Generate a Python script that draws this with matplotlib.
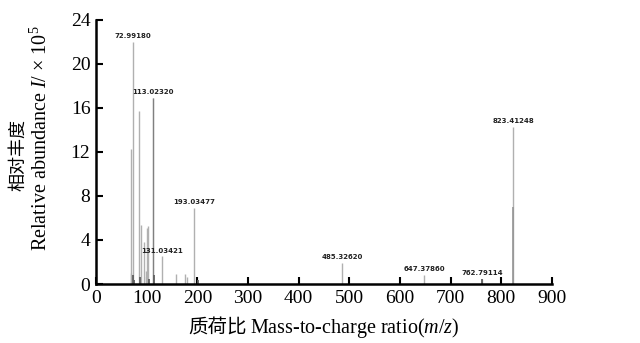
import matplotlib
matplotlib.use("Agg")
import matplotlib.pyplot as plt

# Light gray peaks (m/z, relative abundance x 1e5)
mz = [68.5, 70.0, 72.99, 85.0, 89.0, 94.0, 98.0, 101.0, 103.0, 113.02, 131.03, 157.0, 175.0, 180.0, 193.03, 485.33, 647.38, 762.79, 823.41]
abund = [1.0, 12.3, 22.0, 15.7, 5.4, 3.8, 1.2, 5.1, 5.3, 16.9, 2.5, 0.9, 0.9, 0.6, 6.9, 1.9, 0.8, 0.5, 14.3]

# Darker overlapping peaks
mz_dark = [73.0, 75.0, 86.0, 104.0, 113.5, 201.0, 761.0]
abund_dark = [0.8, 0.4, 0.6, 0.5, 0.8, 0.4, 0.5]
mz_mid = [823.6]
abund_mid = [7.0]

# Annotated peaks
label_mz = [72.99180, 113.02320, 131.03421, 193.03477, 485.32620, 647.37860, 762.79114, 823.41248]
label_y = [22.0, 16.9, 2.5, 6.9, 1.9, 0.8, 0.5, 14.3]

xticks = [0, 100, 200, 300, 400, 500, 600, 700, 800, 900]
yticks = [0, 4, 8, 12, 16, 20, 24]

plt.rcParams['font.family'] = ['Liberation Serif', 'Noto Sans CJK SC', 'DejaVu Sans']
plt.rcParams['mathtext.fontset'] = 'custom'
plt.rcParams['mathtext.rm'] = 'Liberation Serif'
plt.rcParams['mathtext.it'] = 'Liberation Serif:italic'

fig = plt.figure(figsize=(6.4, 3.43), dpi=100)
ax = fig.add_axes([0.15, 0.172, 0.7125, 0.77])

ax.vlines(mz, 0, abund, colors='#b0b0b0', linewidth=1.0)
ax.vlines([113.02], 0, [16.9], colors='#808080', linewidth=0.9)
ax.vlines(mz_mid, 0, abund_mid, colors='#959595', linewidth=1.2)
ax.vlines(mz_dark, 0, abund_dark, colors='#606060', linewidth=1.3)

for x, y in zip(label_mz, label_y):
    ax.text(x, y + 0.25, f"{x:.5f}", ha='center', va='bottom', fontsize=5,
            fontweight='bold', family='DejaVu Sans', color='#222222')

ax.set_xlim(0, 900)
ax.set_ylim(0, 24)
ax.set_xticks(xticks)
ax.set_yticks(yticks)
ax.tick_params(direction='in', length=5, width=1.5, labelsize=14, pad=4, colors='black')
for s in ['top', 'right']:
    ax.spines[s].set_visible(False)
for s in ['left', 'bottom']:
    ax.spines[s].set_linewidth(1.8)

fig.text(0.0285, 0.548, '相对丰度', rotation=90, ha='center', va='center', fontsize=13,
         family=['Noto Sans CJK SC'])
fig.text(0.064, 0.598, 'Relative abundance $I$/ × 10$^{5}$', rotation=90, ha='center',
         va='center', fontsize=14.5)
fig.text(0.385, 0.045, '质荷比', ha='right', va='center', fontsize=14,
         family=['Noto Sans CJK SC'])
fig.text(0.39, 0.045, 'Mass-to-charge ratio($m$/$z$)', ha='left', va='center',
         fontsize=14.5)

fig.savefig('out.png', dpi=100, facecolor='white')
